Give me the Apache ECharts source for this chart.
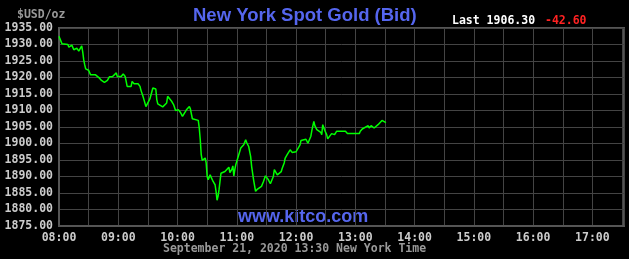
<!DOCTYPE html>
<html><head><meta charset="utf-8">
<script src="https://cdn.jsdelivr.net/npm/echarts@6/dist/echarts.min.js"></script>
<style>html,body{margin:0;padding:0;background:#000;}#c{width:629px;height:259px;}</style>
</head><body><div id="c"></div>
<script>
// minutes after 08:00 New York time
const minutesAfter8 = [0,1,3,5,9,10,13,15,18,20,21,23,24,25,26,27,30,32,34,37,39,41,43,46,48,49,51,54,56,58,59,63,65,67,68,69,71,73,74,76,80,82,83,85,86,88,90,92,95,97,98,99,100,102,105,107,109,110,112,114,116,118,121,123,125,127,129,132,133,135,137,141,142,143,144,145,147,148,149,150,151,153,154,156,158,159,160,161,162,163,164,168,170,172,173,175,176,177,178,179,180,182,184,185,187,189,190,192,194,195,197,199,201,203,205,207,209,210,212,214,216,217,218,220,221,223,225,226,228,229,231,233,234,236,238,240,242,244,245,247,250,252,254,255,256,258,259,261,263,265,266,267,269,271,272,274,276,277,279,281,286,288,290,292,293,296,299,304,305,307,309,313,314,316,318,319,321,323,325,327,329,331];
const bidPrices = [1932.5,1931.7,1930.2,1929.9,1930.0,1929.2,1929.8,1928.4,1928.9,1928.0,1928.6,1929.6,1927.8,1925.4,1923.9,1922.6,1922.2,1920.8,1920.8,1920.8,1921.0,1919.8,1919.1,1918.5,1918.6,1919.1,1920.2,1920.2,1920.3,1921.4,1920.3,1920.3,1921.1,1920.3,1918.8,1917.3,1916.7,1917.3,1918.8,1918.1,1918.1,1917.3,1916.1,1914.3,1913.3,1911.2,1911.5,1913.5,1916.8,1916.8,1916.5,1913.3,1912.0,1911.5,1911.1,1911.4,1912.3,1914.3,1914.1,1912.8,1911.8,1910.0,1910.2,1909.4,1908.2,1908.2,1910.2,1911.2,1910.5,1907.5,1907.0,1907.0,1904.7,1901.2,1896.6,1894.9,1894.3,1895.6,1894.1,1890.0,1889.0,1890.5,1889.8,1888.5,1887.5,1885.5,1882.8,1884.0,1886.0,1888.5,1891.0,1891.5,1891.8,1892.8,1891.2,1892.2,1893.2,1890.2,1892.1,1893.6,1893.9,1896.6,1898.6,1899.1,1899.6,1901.1,1900.3,1899.1,1896.1,1893.1,1889.0,1885.5,1886.2,1886.5,1887.0,1888.5,1890.2,1889.6,1889.0,1887.8,1888.2,1890.0,1892.1,1891.5,1890.5,1890.3,1891.5,1892.5,1894.1,1895.6,1896.6,1897.1,1898.1,1897.3,1896.9,1897.5,1897.1,1899.6,1900.9,1901.4,1901.3,1900.1,1900.3,1902.2,1904.0,1906.7,1905.4,1904.2,1904.7,1903.4,1902.7,1905.7,1904.0,1902.7,1901.4,1902.0,1903.0,1902.4,1902.7,1903.7,1903.7,1903.4,1903.7,1903.0,1903.4,1903.0,1903.0,1903.0,1903.7,1904.4,1905.0,1905.4,1904.7,1905.4,1905.0,1904.7,1904.7,1905.7,1906.0,1907.0,1906.4,1906.3];
const yTicks = [1875,1880,1885,1890,1895,1900,1905,1910,1915,1920,1925,1930,1935];
const xTickLabels = ['08:00','09:00','10:00','11:00','12:00','13:00','14:00','15:00','16:00','17:00'];
const titleText = 'New York Spot Gold (Bid)';
const lastText = 'Last 1906.30';
const changeText = '-42.60';
const unitText = '$USD/oz';
const footerText = 'September 21, 2020 13:30 New York Time';
const watermark = 'www.kitco.com';

const mono = '"DejaVu Sans Mono", monospace';
const startMin = 480;
const data = minutesAfter8.map((m, i) => [startMin + m, bidPrices[i]]);
const chart = echarts.init(document.getElementById('c'), null, {renderer: 'canvas'});
chart.setOption({
  backgroundColor: '#000',
  animation: false,
  grid: {left: 59, right: 5, top: 28, bottom: 33, show: true, borderColor: '#555', borderWidth: 2, backgroundColor: 'transparent'},
  xAxis: {
    type: 'value', min: 480, max: 1052, interval: 30,
    axisLine: {show: true, lineStyle: {color: '#555', width: 2}},
    axisTick: {show: false},
    splitLine: {show: true, lineStyle: {color: '#444', width: 1}},
    axisLabel: {
      color: '#ccc', fontFamily: mono, fontWeight: 'bold', fontSize: 11.5, margin: 6,
      showMaxLabel: false,
      formatter: v => {
        if (v % 60 !== 0) return '';
        const idx = (v - 480) / 60;
        return xTickLabels[idx] || '';
      }
    }
  },
  yAxis: {
    type: 'value', min: yTicks[0], max: yTicks[yTicks.length - 1], interval: 5,
    axisLine: {show: true, lineStyle: {color: '#555', width: 2}},
    axisTick: {show: false},
    splitLine: {show: true, lineStyle: {color: '#444', width: 1}},
    axisLabel: {color: '#ccc', fontFamily: mono, fontWeight: 'bold', fontSize: 11.5, margin: 6,
      formatter: v => v.toFixed(2)}
  },
  series: [{
    type: 'line', data: data, symbol: 'none',
    lineStyle: {color: '#00ff00', width: 1.5}
  }],
  graphic: [
    {type: 'text', left: 17, top: 9, style: {text: unitText, fill: '#999', font: 'bold 11.5px ' + mono}},
    {type: 'text', left: 193, top: 6, style: {text: titleText, fill: '#5566ee', font: 'bold 18.5px "Liberation Sans", Arial, sans-serif'}},
    {type: 'text', left: 452, top: 15, style: {text: lastText, fill: '#fff', font: 'bold 11.5px ' + mono}},
    {type: 'text', left: 545, top: 15, style: {text: changeText, fill: '#ff2222', font: 'bold 11.5px ' + mono}},
    {type: 'text', left: 238, top: 208, style: {text: watermark, fill: '#5566ee', font: 'bold 18px "Liberation Sans", Arial, sans-serif'}},
    {type: 'text', left: 163, top: 243, style: {text: footerText, fill: '#999', font: 'bold 11.5px ' + mono}}
  ]
});
</script></body></html>
